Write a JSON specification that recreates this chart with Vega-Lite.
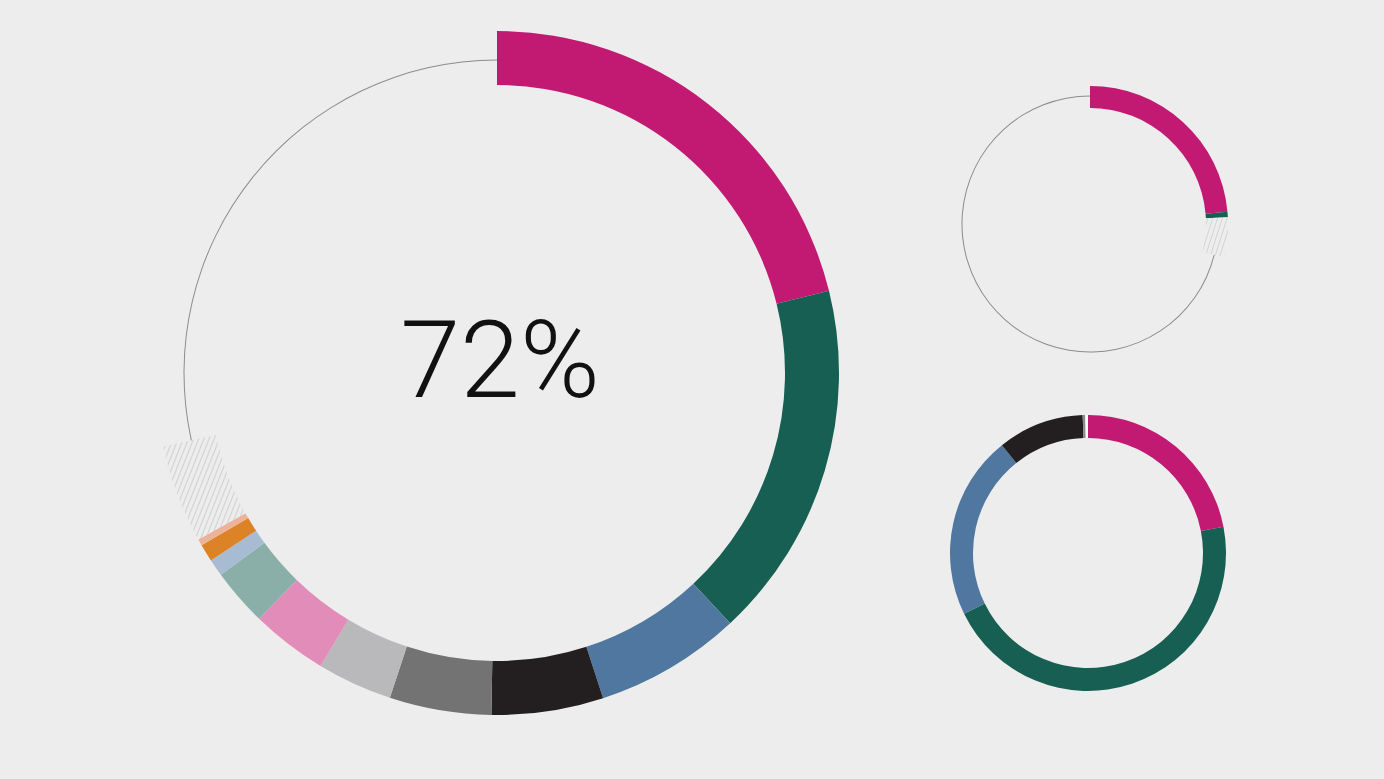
{
  "$schema": "https://vega.github.io/schema/vega-lite/v6.json",
  "background": "#EDEDED",
  "padding": 0,
  "config": {"view": {"stroke": null}, "concat": {"spacing": 0}},
  "datasets": {
    "donuts": [
      {"chart": "main", "ord": 1, "seg": "c1", "value": 21.14},
      {"chart": "main", "ord": 2, "seg": "c2", "value": 16.92},
      {"chart": "main", "ord": 3, "seg": "c3", "value": 6.92},
      {"chart": "main", "ord": 4, "seg": "c4", "value": 5.28},
      {"chart": "main", "ord": 5, "seg": "c5", "value": 4.81},
      {"chart": "main", "ord": 6, "seg": "c6", "value": 3.56},
      {"chart": "main", "ord": 7, "seg": "c7", "value": 3.61},
      {"chart": "main", "ord": 8, "seg": "c8", "value": 2.72},
      {"chart": "main", "ord": 9, "seg": "c9", "value": 0.81},
      {"chart": "main", "ord": 10, "seg": "c10", "value": 0.83},
      {"chart": "main", "ord": 11, "seg": "c11", "value": 0.31},
      {"chart": "main", "ord": 12, "seg": "hatched", "value": 4.64},
      {"chart": "main", "ord": 13, "seg": "rest", "value": 28.45},
      {"chart": "top", "ord": 1, "seg": "c1", "value": 23.58},
      {"chart": "top", "ord": 2, "seg": "c2", "value": 0.64},
      {"chart": "top", "ord": 3, "seg": "hatched", "value": 4.67},
      {"chart": "top", "ord": 4, "seg": "rest", "value": 71.11},
      {"chart": "bottom", "ord": 1, "seg": "c1", "value": 21.94},
      {"chart": "bottom", "ord": 2, "seg": "c2", "value": 45.81},
      {"chart": "bottom", "ord": 3, "seg": "c3", "value": 21.53},
      {"chart": "bottom", "ord": 4, "seg": "c4", "value": 10.1},
      {"chart": "bottom", "ord": 5, "seg": "c12", "value": 0.31},
      {"chart": "bottom", "ord": 6, "seg": "c13", "value": 0.31}
    ]
  },
  "hconcat": [
    {
      "width": 994,
      "height": 746,
      "layer": [
        {
          "data": {"name": "donuts"},
          "transform": [
            {"filter": "datum.chart === 'main'"},
            {"stack": "value", "groupby": ["chart"], "sort": [{"field": "ord"}], "as": ["t0", "t1"]}
          ],
          "layer": [
            {
              "transform": [{"filter": "datum.seg !== 'rest' && datum.seg !== 'hatched'"}],
              "mark": {"type": "arc", "innerRadius": 288, "outerRadius": 342},
              "encoding": {
                "theta": {"field": "t0", "type": "quantitative", "scale": {"domain": [0, 100]}},
                "theta2": {"field": "t1"},
                "color": {
                  "field": "seg", "type": "nominal", "legend": null,
                  "scale": {
                    "domain": ["c1","c2","c3","c4","c5","c6","c7","c8","c9","c10","c11","c12","c13"],
                    "range": ["#C21A72","#165F52","#50779F","#231F20","#737373","#B9B8BA","#E28DB9","#8AAFA9","#A7BCD2","#DC8328","#EDB39A","#8A8A8A","#FFFFFF"]
                  }
                }
              }
            },
            {
              "transform": [{"filter": "datum.seg === 'hatched'"}],
              "mark": {
                "type": "arc", "innerRadius": 288, "outerRadius": 342,
                "fill": {
                  "gradient": "linear", "x1": 0, "y1": 0, "x2": 1.2, "y2": 0.6,
                  "stops": [
                    {"offset": 0, "color": "#EDEDED"}, {"offset": 0.01, "color": "#D2D2D2"}, {"offset": 0.02, "color": "#EDEDED"},
                    {"offset": 0.0417, "color": "#EDEDED"}, {"offset": 0.0517, "color": "#D2D2D2"}, {"offset": 0.0617, "color": "#EDEDED"},
                    {"offset": 0.0833, "color": "#EDEDED"}, {"offset": 0.0933, "color": "#D2D2D2"}, {"offset": 0.1033, "color": "#EDEDED"},
                    {"offset": 0.125, "color": "#EDEDED"}, {"offset": 0.135, "color": "#D2D2D2"}, {"offset": 0.145, "color": "#EDEDED"},
                    {"offset": 0.1667, "color": "#EDEDED"}, {"offset": 0.1767, "color": "#D2D2D2"}, {"offset": 0.1867, "color": "#EDEDED"},
                    {"offset": 0.2083, "color": "#EDEDED"}, {"offset": 0.2183, "color": "#D2D2D2"}, {"offset": 0.2283, "color": "#EDEDED"},
                    {"offset": 0.25, "color": "#EDEDED"}, {"offset": 0.26, "color": "#D2D2D2"}, {"offset": 0.27, "color": "#EDEDED"},
                    {"offset": 0.2917, "color": "#EDEDED"}, {"offset": 0.3017, "color": "#D2D2D2"}, {"offset": 0.3117, "color": "#EDEDED"},
                    {"offset": 0.3333, "color": "#EDEDED"}, {"offset": 0.3433, "color": "#D2D2D2"}, {"offset": 0.3533, "color": "#EDEDED"},
                    {"offset": 0.375, "color": "#EDEDED"}, {"offset": 0.385, "color": "#D2D2D2"}, {"offset": 0.395, "color": "#EDEDED"},
                    {"offset": 0.4167, "color": "#EDEDED"}, {"offset": 0.4267, "color": "#D2D2D2"}, {"offset": 0.4367, "color": "#EDEDED"},
                    {"offset": 0.4583, "color": "#EDEDED"}, {"offset": 0.4683, "color": "#D2D2D2"}, {"offset": 0.4783, "color": "#EDEDED"},
                    {"offset": 0.5, "color": "#EDEDED"}, {"offset": 0.51, "color": "#D2D2D2"}, {"offset": 0.52, "color": "#EDEDED"},
                    {"offset": 0.5417, "color": "#EDEDED"}, {"offset": 0.5517, "color": "#D2D2D2"}, {"offset": 0.5617, "color": "#EDEDED"},
                    {"offset": 0.5833, "color": "#EDEDED"}, {"offset": 0.5933, "color": "#D2D2D2"}, {"offset": 0.6033, "color": "#EDEDED"},
                    {"offset": 0.625, "color": "#EDEDED"}, {"offset": 0.635, "color": "#D2D2D2"}, {"offset": 0.645, "color": "#EDEDED"},
                    {"offset": 0.6667, "color": "#EDEDED"}, {"offset": 0.6767, "color": "#D2D2D2"}, {"offset": 0.6867, "color": "#EDEDED"},
                    {"offset": 0.7083, "color": "#EDEDED"}, {"offset": 0.7183, "color": "#D2D2D2"}, {"offset": 0.7283, "color": "#EDEDED"},
                    {"offset": 0.75, "color": "#EDEDED"}, {"offset": 0.76, "color": "#D2D2D2"}, {"offset": 0.77, "color": "#EDEDED"},
                    {"offset": 0.7917, "color": "#EDEDED"}, {"offset": 0.8017, "color": "#D2D2D2"}, {"offset": 0.8117, "color": "#EDEDED"},
                    {"offset": 0.8333, "color": "#EDEDED"}, {"offset": 0.8433, "color": "#D2D2D2"}, {"offset": 0.8533, "color": "#EDEDED"},
                    {"offset": 0.875, "color": "#EDEDED"}, {"offset": 0.885, "color": "#D2D2D2"}, {"offset": 0.895, "color": "#EDEDED"},
                    {"offset": 0.9167, "color": "#EDEDED"}, {"offset": 0.9267, "color": "#D2D2D2"}, {"offset": 0.9367, "color": "#EDEDED"},
                    {"offset": 0.9583, "color": "#EDEDED"}, {"offset": 0.9683, "color": "#D2D2D2"}, {"offset": 0.9783, "color": "#EDEDED"}
                  ]
                }
              },
              "encoding": {
                "theta": {"field": "t0", "type": "quantitative", "scale": {"domain": [0, 100]}},
                "theta2": {"field": "t1"}
              }
            },
            {
              "transform": [{"filter": "datum.seg === 'rest'"}],
              "mark": {"type": "arc", "innerRadius": 312.5, "outerRadius": 313.5, "fill": "#8C8C8C"},
              "encoding": {
                "theta": {"field": "t0", "type": "quantitative", "scale": {"domain": [0, 100]}},
                "theta2": {"field": "t1"}
              }
            }
          ]
        },
        {
          "data": {"values": [{"label": "72%"}]},
          "mark": {"type": "text", "font": "Roboto", "fontWeight": 300, "fontSize": 108, "align": "center", "baseline": "alphabetic", "dx": 3, "dy": 24, "color": "#111111"},
          "encoding": {"text": {"field": "label", "type": "nominal"}}
        }
      ]
    },
    {
      "vconcat": [
        {
          "width": 192,
          "height": 448,
          "data": {"name": "donuts"},
          "transform": [
            {"filter": "datum.chart === 'top'"},
            {"stack": "value", "groupby": ["chart"], "sort": [{"field": "ord"}], "as": ["t0", "t1"]}
          ],
          "layer": [
            {
              "transform": [{"filter": "datum.seg !== 'rest' && datum.seg !== 'hatched'"}],
              "mark": {"type": "arc", "innerRadius": 116, "outerRadius": 138},
              "encoding": {
                "theta": {"field": "t0", "type": "quantitative", "scale": {"domain": [0, 100]}},
                "theta2": {"field": "t1"},
                "color": {"field": "seg", "type": "nominal", "legend": null}
              }
            },
            {
              "transform": [{"filter": "datum.seg === 'hatched'"}],
              "mark": {
                "type": "arc", "innerRadius": 116, "outerRadius": 138,
                "fill": {
                  "gradient": "linear", "x1": 0, "y1": 0, "x2": 1.2, "y2": 0.6,
                  "stops": [
                    {"offset": 0, "color": "#EDEDED"}, {"offset": 0.025, "color": "#D2D2D2"}, {"offset": 0.05, "color": "#EDEDED"},
                    {"offset": 0.125, "color": "#EDEDED"}, {"offset": 0.15, "color": "#D2D2D2"}, {"offset": 0.175, "color": "#EDEDED"},
                    {"offset": 0.25, "color": "#EDEDED"}, {"offset": 0.275, "color": "#D2D2D2"}, {"offset": 0.3, "color": "#EDEDED"},
                    {"offset": 0.375, "color": "#EDEDED"}, {"offset": 0.4, "color": "#D2D2D2"}, {"offset": 0.425, "color": "#EDEDED"},
                    {"offset": 0.5, "color": "#EDEDED"}, {"offset": 0.525, "color": "#D2D2D2"}, {"offset": 0.55, "color": "#EDEDED"},
                    {"offset": 0.625, "color": "#EDEDED"}, {"offset": 0.65, "color": "#D2D2D2"}, {"offset": 0.675, "color": "#EDEDED"},
                    {"offset": 0.75, "color": "#EDEDED"}, {"offset": 0.775, "color": "#D2D2D2"}, {"offset": 0.8, "color": "#EDEDED"},
                    {"offset": 0.875, "color": "#EDEDED"}, {"offset": 0.9, "color": "#D2D2D2"}, {"offset": 0.925, "color": "#EDEDED"}
                  ]
                }
              },
              "encoding": {
                "theta": {"field": "t0", "type": "quantitative", "scale": {"domain": [0, 100]}},
                "theta2": {"field": "t1"}
              }
            },
            {
              "transform": [{"filter": "datum.seg === 'rest'"}],
              "mark": {"type": "arc", "innerRadius": 127.5, "outerRadius": 128.5, "fill": "#8C8C8C"},
              "encoding": {
                "theta": {"field": "t0", "type": "quantitative", "scale": {"domain": [0, 100]}},
                "theta2": {"field": "t1"}
              }
            }
          ]
        },
        {
          "width": 188,
          "height": 210,
          "data": {"name": "donuts"},
          "transform": [
            {"filter": "datum.chart === 'bottom'"},
            {"stack": "value", "groupby": ["chart"], "sort": [{"field": "ord"}], "as": ["t0", "t1"]}
          ],
          "mark": {"type": "arc", "innerRadius": 115, "outerRadius": 138},
          "encoding": {
            "theta": {"field": "t0", "type": "quantitative", "scale": {"domain": [0, 100]}},
            "theta2": {"field": "t1"},
            "color": {"field": "seg", "type": "nominal", "legend": null}
          }
        },
        {
          "width": 390,
          "height": 121,
          "data": {"values": []},
          "mark": "point"
        }
      ],
      "spacing": 0,
      "bounds": "flush"
    }
  ],
  "spacing": 0,
  "bounds": "flush"
}
